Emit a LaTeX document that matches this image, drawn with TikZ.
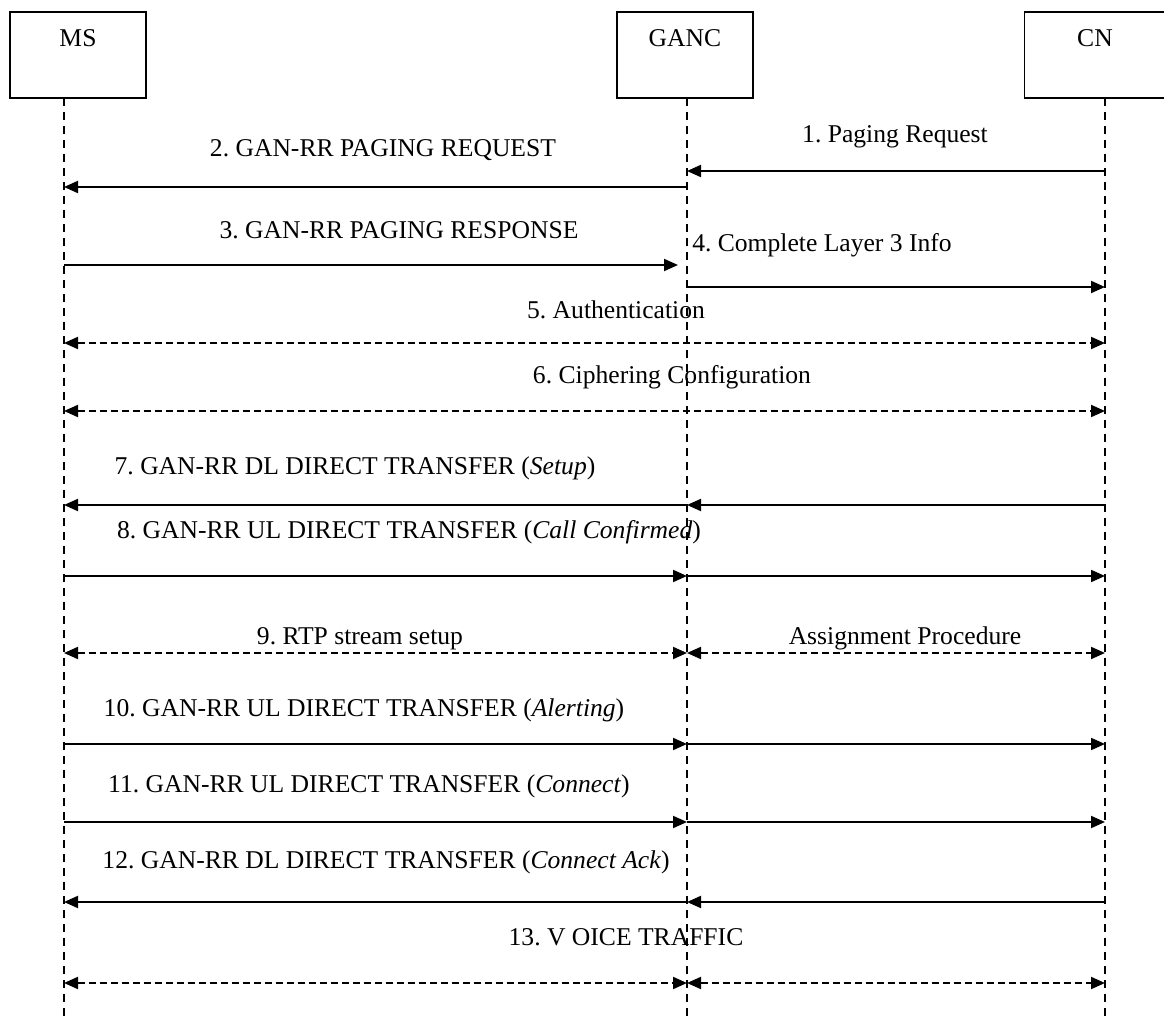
\documentclass[tikz,border=0pt]{standalone}
\usepackage{fontspec}
\setmainfont{Liberation Serif}
\usetikzlibrary{arrows.meta,positioning}
\frenchspacing

\begin{document}
\begin{tikzpicture}[x=0.5pt,y=-0.5pt]
        \tikzset{entity/.style = {shape=rectangle,draw,line width=0.9pt,minimum width=68pt,minimum height=43pt,inner sep=0pt}}
        \tikzset{entitytext/.style = {font=\fontsize{12.8}{15}\selectfont,anchor=north,inner sep=0pt}}
        \tikzset{lifeline/.style = {line width=0.7pt,dash pattern=on 4pt off 3pt}}
        \tikzset{msg/.style = {-{Triangle[length=7pt,width=6pt]},line width=1pt}}
        \tikzset{msgd/.style = {{Triangle[length=7pt,width=6pt]}-{Triangle[length=7pt,width=6pt]},line width=1pt,dash pattern=on 3.5pt off 2pt}}
        \tikzset{msglabel/.style = {font=\fontsize{12.8}{15}\selectfont,anchor=base,inner sep=0pt}}
        \useasboundingbox (0,0) rectangle (1164,1016);
        % entities
        \node[entity] (msbox) at (78,55) {};
        \node[entity] (gancbox) at (685,55) {};
        \node[entity,minimum width=70.5pt] (cnbox) at (1095,55) {};
        \node[entitytext] (mstext) at ([yshift=-9pt]msbox.north) {MS};
        \node[entitytext] (ganctext) at ([yshift=-9pt]gancbox.north) {GANC};
        \node[entitytext] (cntext) at ([yshift=-9pt]cnbox.north) {CN};

        % lifelines
        \coordinate (msl) at (64,98);
        \coordinate (gancl) at (687,98);
        \coordinate (cnl) at (1105,98);
        \coordinate (bottom) at (0,1016);
        \draw[lifeline] (msl) -- (msl |- bottom);
        \draw[lifeline] (gancl) -- (gancl |- bottom);
        \draw[lifeline] (cnl) -- (cnl |- bottom);

        % rows
        \foreach \n/\y in {1/171,2/187,3/265,4/287,5/343,6/411,7/505,8/576,9/653,10/744,11/822,12/902,13/983}
          \coordinate (r\n) at (0,\y);

        % labels
        \node[msglabel] (l1) at (895,143) {1. Paging Request};
        \node[msglabel] (l2) at (383,157) {2. GAN-RR PAGING REQUEST};
        \node[msglabel] (l3) at (399,239) {3. GAN-RR PAGING RESPONSE};
        \node[msglabel] (l4) at (822,252) {4. Complete Layer 3 Info};
        \node[msglabel] (l5) at (616,319) {5. Authentication};
        \node[msglabel] (l6) at (672,384) {6. Ciphering Configuration};
        \node[msglabel] (l7) at (355,475) {7. GAN-RR DL DIRECT TRANSFER (\textit{Setup})};
        \node[msglabel] (l8) at (409,539) {8. GAN-RR UL DIRECT TRANSFER (\textit{Call Confirmed})};
        \node[msglabel] (l9) at (360,645) {9. RTP stream setup};
        \node[msglabel] (l9b) at (905,645) {Assignment Procedure};
        \node[msglabel] (l10) at (364,717) {10. GAN-RR UL DIRECT TRANSFER (\textit{Alerting})};
        \node[msglabel] (l11) at (369,792) {11. GAN-RR UL DIRECT TRANSFER (\textit{Connect})};
        \node[msglabel] (l12) at (386,868) {12. GAN-RR DL DIRECT TRANSFER (\textit{Connect Ack})};
        \node[msglabel] (l13) at (626,945) {13. V OICE TRAFFIC};

        % messages
        \draw[msg] (cnl |- r1) -- (gancl |- r1);
        \draw[msg] (gancl |- r2) -- (msl |- r2);
        \draw[msg,shorten >=4.5pt] (msl |- r3) -- (gancl |- r3);
        \draw[msg] (gancl |- r4) -- (cnl |- r4);
        \draw[msgd] (msl |- r5) -- (cnl |- r5);
        \draw[msgd] (msl |- r6) -- (cnl |- r6);
        \draw[msg] (cnl |- r7) -- (gancl |- r7);
        \draw[msg] (gancl |- r7) -- (msl |- r7);
        \draw[msg] (msl |- r8) -- (gancl |- r8);
        \draw[msg] (gancl |- r8) -- (cnl |- r8);
        \draw[msgd] (msl |- r9) -- (gancl |- r9);
        \draw[msgd] (gancl |- r9) -- (cnl |- r9);
        \draw[msg] (msl |- r10) -- (gancl |- r10);
        \draw[msg] (gancl |- r10) -- (cnl |- r10);
        \draw[msg] (msl |- r11) -- (gancl |- r11);
        \draw[msg] (gancl |- r11) -- (cnl |- r11);
        \draw[msg] (cnl |- r12) -- (gancl |- r12);
        \draw[msg] (gancl |- r12) -- (msl |- r12);
        \draw[msgd] (msl |- r13) -- (gancl |- r13);
        \draw[msgd] (gancl |- r13) -- (cnl |- r13);
\end{tikzpicture}
\end{document}
